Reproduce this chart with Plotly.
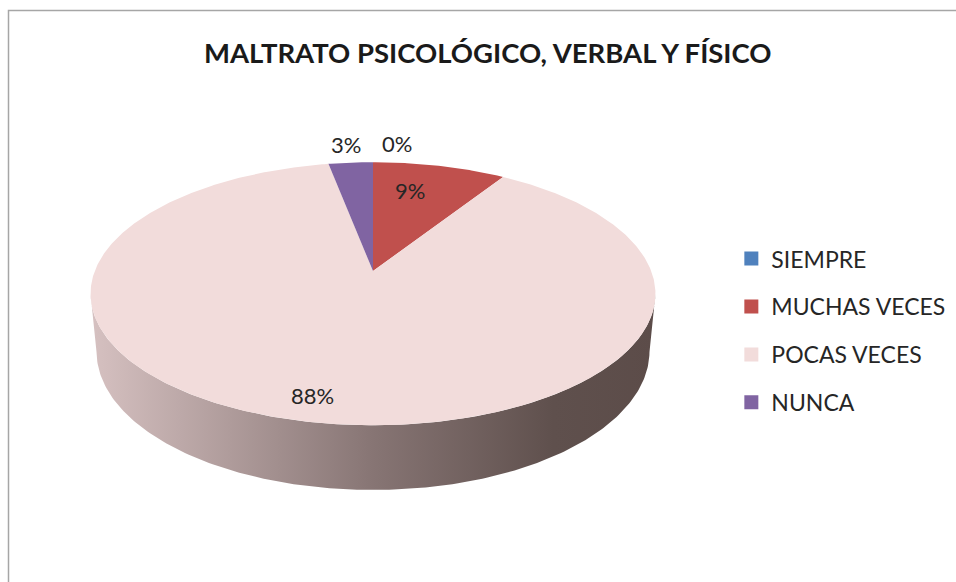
import numpy as np
import plotly.graph_objects as go

# ---- data ----
categories = ["SIEMPRE", "MUCHAS VECES", "POCAS VECES", "NUNCA"]
values = [0, 9, 88, 3]
label_texts = ["0%", "9%", "88%", "3%"]
title_text = "MALTRATO PSICOLÓGICO, VERBAL Y FÍSICO"

# ---- style ----
top_colors = ["#4f81bd", "#c0504d", "#f2dcdb", "#8064a2"]
side_scale = [[0.0, "#d6c1c1"], [0.5, "#877574"], [0.82, "#5f504d"], [1.0, "#5c4c49"]]
label_radius = [1.15, 0.7, 0.85, 1.15]
label_xshift = [24, -12, -9, -2]
label_yshift = [5, 4, 0, 5]
FONT = "Lato"

# projection parameters (3D tilted disc with perspective)
CX, CY, K, D = 373.0, 271.0, 1430.0, 5.14
SA, CA = np.sin(np.radians(27.3)), np.cos(np.radians(27.3))
H = 0.235


def proj(theta_deg, r=1.0, z=0.0):
    th = np.radians(np.asarray(theta_deg, dtype=float))
    X = r * np.sin(th)
    Y = r * np.cos(th)
    w = D + Y * CA - z * SA
    v = Y * SA + z * CA
    return CX + K * X / w, CY - K * v / w


total = float(sum(values))
starts, ends = [], []
acc = 0.0
for v in values:
    starts.append(acc / total * 360.0)
    acc += v
    ends.append(acc / total * 360.0)

fig = go.Figure()

# side wall (only the front-facing part of the rim is visible)
sil = np.degrees(np.arccos(-CA / D))
vis0, vis1 = sil, 360.0 - sil
for i, v in enumerate(values):
    a0, a1 = max(starts[i], vis0), min(ends[i], vis1)
    if v == 0 or a1 <= a0:
        continue
    th = np.linspace(a0, a1, 200)
    tx, ty = proj(th)
    bx, by = proj(th[::-1], z=-H)
    fig.add_trace(go.Scatter(
        x=np.concatenate([tx, bx, tx[:1]]), y=np.concatenate([ty, by, ty[:1]]),
        mode="lines", line=dict(width=0), fill="toself",
        fillgradient=dict(type="horizontal", colorscale=side_scale),
        hoverinfo="skip", showlegend=False))

# top faces
for i, v in enumerate(values):
    if v == 0:
        continue
    th = np.linspace(starts[i], ends[i], max(int((ends[i] - starts[i]) * 2), 10))
    rx, ry = proj(th)
    fig.add_trace(go.Scatter(
        x=np.concatenate([[CX], rx, [CX]]), y=np.concatenate([[CY], ry, [CY]]),
        mode="lines", line=dict(width=0, color=top_colors[i]), fill="toself",
        fillcolor=top_colors[i], hoverinfo="skip", showlegend=False))

# legend entries
for i, c in enumerate(categories):
    fig.add_trace(go.Scatter(
        x=[None], y=[None], mode="markers", name=c, legendgroup=c,
        marker=dict(symbol="square", size=14, color=top_colors[i])))

# data labels
for i, v in enumerate(values):
    mid = (starts[i] + ends[i]) / 2.0
    lx, ly = proj(mid, r=label_radius[i])
    fig.add_annotation(x=float(lx), y=float(ly), text=label_texts[i], showarrow=False,
                       xshift=label_xshift[i], yshift=label_yshift[i],
                       font=dict(family=FONT, size=22, color="#262626"))

fig.add_annotation(x=488, y=52, text="<b>" + title_text + "</b>", showarrow=False,
                   font=dict(family=FONT, size=27.5, color="#1a1a1a"))

# chart frame
fig.add_shape(type="rect", x0=8.5, y0=10.5, x1=1000, y1=640,
              line=dict(color="#a6a6a6", width=1.5), fillcolor="rgba(0,0,0,0)")

fig.update_layout(
    width=956, height=582, autosize=False,
    margin=dict(l=0, r=0, t=0, b=0, pad=0),
    paper_bgcolor="white", plot_bgcolor="white",
    xaxis=dict(range=[0, 956], visible=False, fixedrange=True),
    yaxis=dict(range=[582, 0], visible=False, fixedrange=True),
    legend=dict(x=0.765, y=0.5925, xanchor="left", yanchor="top",
                font=dict(family=FONT, size=23, color="#262626"),
                tracegroupgap=15, itemwidth=30, bgcolor="rgba(0,0,0,0)"),
    showlegend=True,
)

fig.write_html("out.html", config={"displayModeBar": False},
               post_script="document.body.style.margin='0px';")
